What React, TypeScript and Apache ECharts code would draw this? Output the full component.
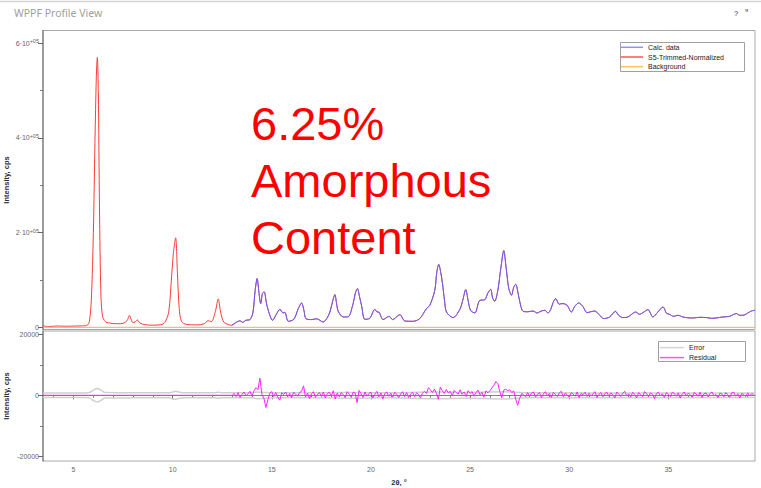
import React, { useEffect, useRef } from 'react';
import * as echarts from 'echarts';

// ---------- data ----------
const obsX = [3.45, 3.8, 4.2, 4.6, 5.0, 5.4, 5.6, 5.7, 5.8, 5.9, 6.0, 6.08, 6.15, 6.2, 6.25, 6.31, 6.38, 6.46, 6.6, 6.8, 7.2, 7.5, 7.7, 7.82, 7.92, 8.0, 8.1, 8.22, 8.35, 8.6, 9.0, 9.4, 9.6, 9.8, 9.95, 10.04, 10.15, 10.24, 10.33, 10.45, 10.7, 11.2, 11.6, 11.78, 11.95, 12.15, 12.3, 12.4, 12.5, 12.6, 12.8, 12.97];
const obsY = [2500, 1800, 2800, 2200, 2600, 3000, 3400, 4500, 12000, 60000, 200000, 390000, 530000, 570000, 500000, 250000, 70000, 24000, 12000, 9000, 7500, 8500, 14000, 25000, 15000, 10000, 11000, 15500, 9000, 5500, 4500, 5500, 10000, 32000, 110000, 158000, 189000, 115000, 40000, 12000, 6000, 5000, 7500, 14000, 12000, 33000, 60000, 36000, 18000, 10000, 6000, 4200];

const calcX = [12.97, 13.23, 13.39, 13.54, 13.69, 13.9, 14.05, 14.16, 14.26, 14.35, 14.44, 14.53, 14.62, 14.72, 14.82, 15.04, 15.23, 15.41, 15.57, 15.66, 15.83, 16.11, 16.34, 16.5, 16.62, 16.72, 17.01, 17.26, 17.59, 17.78, 17.93, 18.08, 18.18, 18.28, 18.35, 18.6, 18.85, 19.1, 19.21, 19.32, 19.42, 19.53, 19.69, 19.94, 20.2, 20.3, 20.41, 20.61, 20.92, 21.09, 21.46, 21.71, 22.13, 22.46, 22.8, 22.97, 23.22, 23.32, 23.42, 23.52, 23.61, 23.71, 23.81, 24.14, 24.48, 24.63, 24.78, 24.9, 25.02, 25.24, 25.49, 25.74, 25.89, 26.04, 26.14, 26.24, 26.4, 26.55, 26.7, 26.82, 26.95, 27.09, 27.2, 27.3, 27.45, 27.56, 27.67, 27.91, 28.18, 28.38, 28.56, 28.77, 28.93, 29.07, 29.19, 29.32, 29.49, 29.57, 29.69, 29.89, 30.11, 30.28, 30.48, 30.68, 30.9, 31.08, 31.29, 31.49, 31.74, 32.04, 32.33, 32.49, 32.71, 32.96, 33.15, 33.35, 33.55, 33.72, 33.97, 34.22, 34.46, 34.73, 34.91, 35.06, 35.26, 35.48, 35.73, 35.97, 36.24, 36.58, 36.92, 37.18, 37.42, 37.75, 38.09, 38.43, 38.59, 38.76, 38.99, 39.18, 39.37];
const calcY = [4200, 11200, 13700, 10500, 14800, 16300, 31700, 78000, 103000, 74000, 50000, 72000, 74600, 52800, 36000, 14800, 27500, 38000, 30200, 31700, 12700, 16900, 40000, 51400, 36000, 18400, 16300, 18000, 11200, 19000, 32300, 57000, 69000, 46500, 33800, 21800, 22200, 50000, 71800, 81800, 65500, 45000, 16900, 19000, 38000, 32700, 31700, 16300, 23200, 16300, 26800, 13300, 12700, 18400, 39500, 46500, 78200, 116000, 133000, 116000, 92300, 57000, 32300, 20500, 37400, 57000, 79600, 57000, 36000, 30200, 57000, 58100, 71800, 80300, 61300, 55000, 78200, 124700, 162000, 124700, 82400, 67600, 84500, 90900, 65500, 44400, 33800, 32800, 34400, 30200, 33800, 36000, 30200, 38000, 52800, 60600, 48600, 49700, 50000, 46500, 32300, 44400, 51400, 44400, 31100, 32800, 34400, 27500, 18400, 21800, 33800, 25400, 20500, 21800, 27500, 32300, 27500, 31100, 37400, 21800, 31700, 42900, 29600, 27500, 23200, 25400, 21800, 20100, 19700, 21100, 20500, 19000, 19700, 21800, 23200, 29000, 25400, 25400, 29600, 34400, 36000];

const bgX = [3.46, 39.37];
const bgY = [0, 0];

const errX = [3.46, 5.6, 5.85, 6.0, 6.2, 6.4, 6.6, 7.8, 8.2, 9.8, 10.0, 10.15, 10.35, 10.6, 12.1, 12.3, 12.5, 14.0, 14.26, 14.6, 15.2, 18.2, 19.3, 20.5, 23.4, 24.8, 26.7, 27.3, 28.0, 39.37];
const errY = [750, 750, 1000, 1700, 2200, 1600, 900, 850, 800, 800, 1100, 1300, 1000, 800, 800, 1000, 800, 800, 1100, 950, 800, 900, 950, 800, 1100, 950, 1200, 1000, 800, 750];

const residFlatX = [3.46, 12.95];
const residFlatY = [0, 0];
const residStart = 13.0;
const residStep = 0.1;
const residY = [
  0, 600, -400, 900, -700, 300, 1100, -200, 500, 1300,
  -300, 1500, 2500, 1800, 5600, 300, -900, -4000, -1500, 700,
  1200, -400, 900, -600, -1600, 800, 300, 1100, -500, 600,
  -800, 1000, 400, -300, 900, 1300, 3100, -600, 700, -1100,
  500, 1200, -700, 300, 900, -400, 1100, -900, 600, 1000,
  -200, 1500, -1200, 700, -500, 900, 300, -800, 1200, 400,
  -600, 1000, 800, -2400, 1600, 500, -700, 1100, -300, 600,
  1000, -900, 400, 1300, -500, 800, -1200, 600, 1100, -300,
  700, -600, 1000, 300, -800, 500, 1200, -400, 900, -700,
  400, 1000, -500, 800, 300, -900, 700, 1300, 600, 2500,
  1800, 900, 2000, 700, -1300, 2700, 1500, 600, 1900, 800,
  1300, -200, 1600, 900, 400, 1800, 300, 1100, -400, 1500,
  600, 1200, -300, 900, 1700, 200, 1000, -600, 1400, 800,
  1500, 2400, 3300, 4500, 3800, 1200, -800, 1700, 2000, 1500,
  1800, 900, 1400, -1200, -3300, -1000, 600, 200, -500, 900,
  -300, 700, 1100, -600, 400, 900, -800, 500, 1200, -200,
  600, -700, 1000, 300, -400, 800, 1300, -500, 700, 200,
  -600, 900, 400, -300, 1100, -800, 600, 200, 1000, -400,
  700, -200, 500, 1200, -700, 300, 900, -500, 600, 1000,
  -300, 800, 200, -900, 1100, 400, -400, 700, 1300, -200,
  500, -600, 1000, 300, -800, 900, 200, -400, 1200, 600,
  -500, 800, 300, -1100, 600, 1000, -200, 500, -700, 900,
  300, -400, 1000, 600, -300, 800, -900, 400, 1100, -200,
  700, 200, -600, 900, 400, -300, 1000, -700, 500, 800,
  -400, 600, 1100, -200, 300, -800, 700, 400, -500, 900,
  200, -600, 800, 1000, -300, 500, -900, 600, 300, -400,
  800, -200, 500, 300,
];

const xMajorTicks = [5, 10, 15, 20, 25, 30, 35];
const xMinorTicks = [4, 6, 7, 8, 9, 11, 12, 13, 14, 16, 17, 18, 19, 21, 22, 23, 24, 26, 27, 28, 29, 31, 32, 33, 34, 36, 37, 38, 39];
const topYTicks = [0, 200000, 400000, 600000];
const topYMinor = [100000, 300000, 500000];
const botYTicks = [-20000, 0, 20000];
const botYMinor = [-10000, 10000];

const X_MIN = 3.46;
const X_MAX = 39.37;
const TOP_MIN = -4650;
const TOP_MAX = 627050;
const BOT_MIN = -21540;
const BOT_MAX = 21080;

const FONT = 'Liberation Sans';

const pairs = (xs: number[], ys: number[]) => xs.map((x, i) => [x, ys[i]]);

export default function App() {
  const ref = useRef<HTMLDivElement>(null);
  useEffect(() => {
    if (!ref.current) return;
    const chart = echarts.init(ref.current, undefined, { renderer: 'svg' });

    const obsData = pairs(obsX, obsY).concat(pairs(calcX, calcY).slice(1));
    const calcData = pairs(calcX, calcY);
    const residData = pairs(residFlatX, residFlatY).concat(
      residY.map((v, i) => [Number((residStart + i * residStep).toFixed(2)), v])
    );
    const errUp = pairs(errX, errY);
    const errDown = errX.map((x, i) => [x, -errY[i]]);

    const tickLabel = { fontSize: 7, color: '#666', fontFamily: FONT };
    const nameStyle = { fontSize: 7.5, fontWeight: 'bold' as const, color: '#2a2a3a', fontFamily: FONT };
    const gridBase = { left: 43, width: 712, containLabel: false, outerBoundsMode: 'none' };

    const option: any = {
      animation: false,
      backgroundColor: '#ffffff',
      grid: [
        { ...gridBase, top: 30.5, height: 299, show: true, borderColor: '#a8a8a8', borderWidth: 1 },
        { ...gridBase, top: 331, height: 130, show: true, borderColor: '#a8a8a8', borderWidth: 1 },
        { ...gridBase, top: 30.5, height: 299, show: false },
        { ...gridBase, top: 331, height: 130, show: false },
      ],
      xAxis: [
        { type: 'value', gridIndex: 0, min: X_MIN, max: X_MAX, show: false },
        {
          type: 'value', gridIndex: 1, min: X_MIN, max: X_MAX,
          axisLine: { show: true, lineStyle: { color: '#808080', width: 1 } },
          axisTick: { show: true, customValues: xMajorTicks, length: 4, lineStyle: { color: '#666' } },
          axisLabel: { show: true, customValues: xMajorTicks, margin: 4.5, ...tickLabel },
          splitLine: { show: false },
          name: '2θ, °', nameLocation: 'middle', nameGap: 17, nameMoveOverlap: false, nameTextStyle: nameStyle,
        },
        { type: 'value', gridIndex: 2, min: X_MIN, max: X_MAX, show: false },
        {
          type: 'value', gridIndex: 3, min: X_MIN, max: X_MAX,
          axisLine: { show: false },
          axisTick: { show: true, customValues: xMinorTicks, length: 2.5, lineStyle: { color: '#777' } },
          axisLabel: { show: false },
          splitLine: { show: false },
        },
      ],
      yAxis: [
        {
          type: 'value', gridIndex: 0, min: TOP_MIN, max: TOP_MAX,
          axisLine: { show: true, lineStyle: { color: '#8a8a8a', width: 1.5 } },
          axisTick: { show: true, customValues: topYTicks, length: 5, lineStyle: { color: '#666' } },
          axisLabel: {
            show: true, customValues: topYTicks, margin: 4,
            formatter: (v: number) => (v === 0 ? '{a|0}' : `{a|${Math.round(v / 100000)}·10}{b|+05}`),
            rich: {
              a: { fontSize: 7, color: '#666', fontFamily: FONT, lineHeight: 10 },
              b: { fontSize: 5.5, color: '#666', fontFamily: FONT, verticalAlign: 'top', lineHeight: 6 },
            },
          },
          splitLine: { show: false },
          name: 'Intensity, cps', nameLocation: 'middle', nameGap: 33, nameMoveOverlap: false, nameTextStyle: nameStyle,
        },
        {
          type: 'value', gridIndex: 1, min: BOT_MIN, max: BOT_MAX,
          axisLine: { show: true, lineStyle: { color: '#8a8a8a', width: 1.5 } },
          axisTick: { show: true, customValues: botYTicks, length: 5, lineStyle: { color: '#666' } },
          axisLabel: { show: true, customValues: botYTicks, margin: 4, formatter: (v: number) => String(v), ...tickLabel },
          splitLine: { show: false },
          name: 'Intensity, cps', nameLocation: 'middle', nameGap: 33, nameMoveOverlap: false, nameTextStyle: nameStyle,
        },
        {
          type: 'value', gridIndex: 2, min: TOP_MIN, max: TOP_MAX,
          axisLine: { show: false },
          axisTick: { show: true, customValues: topYMinor, length: 3, lineStyle: { color: '#777' } },
          axisLabel: { show: false },
          splitLine: { show: false },
        },
        {
          type: 'value', gridIndex: 3, min: BOT_MIN, max: BOT_MAX,
          axisLine: { show: false },
          axisTick: { show: true, customValues: botYMinor, length: 3, lineStyle: { color: '#777' } },
          axisLabel: { show: false },
          splitLine: { show: false },
        },
      ],
      legend: [
        {
          left: 621, top: 43.2, orient: 'vertical', padding: 0, itemGap: 1.5,
          itemWidth: 22, itemHeight: 1.5, icon: 'rect', selectedMode: false,
          data: ['Calc. data', 'S5-Trimmed-Normalized', 'Background'],
          textStyle: { fontSize: 7, color: '#222', fontFamily: FONT, lineHeight: 8.2 },
        },
        {
          left: 660, top: 343.5, orient: 'vertical', padding: 0, itemGap: 1.8,
          itemWidth: 24, itemHeight: 1.5, icon: 'rect', selectedMode: false,
          data: ['Error', 'Residual'],
          textStyle: { fontSize: 7, color: '#222', fontFamily: FONT, lineHeight: 8.2 },
        },
      ],
      series: [
        {
          name: 'S5-Trimmed-Normalized', type: 'line', xAxisIndex: 0, yAxisIndex: 0,
          data: obsData, showSymbol: false, symbol: 'none', smooth: 0.3,
          lineStyle: { color: '#ff3a3a', width: 1 }, itemStyle: { color: '#ff5555' },
        },
        {
          name: 'Calc. data', type: 'line', xAxisIndex: 0, yAxisIndex: 0,
          data: calcData, showSymbol: false, symbol: 'none', smooth: 0.3,
          lineStyle: { color: '#6060ff', width: 1 }, itemStyle: { color: '#9090ff' },
        },
        {
          name: 'Background', type: 'line', xAxisIndex: 0, yAxisIndex: 0,
          data: pairs(bgX, bgY), showSymbol: false, symbol: 'none',
          lineStyle: { color: '#e0b070', width: 1 }, itemStyle: { color: '#ffc060' },
        },
        {
          name: 'Error', type: 'line', xAxisIndex: 1, yAxisIndex: 1,
          data: errUp, showSymbol: false, symbol: 'none', smooth: 0.4,
          lineStyle: { color: '#cfcfcf', width: 1.5 }, itemStyle: { color: '#d4d4d4' },
        },
        {
          name: 'Error', type: 'line', xAxisIndex: 1, yAxisIndex: 1,
          data: errDown, showSymbol: false, symbol: 'none', smooth: 0.4,
          lineStyle: { color: '#cfcfcf', width: 1.5 }, itemStyle: { color: '#d4d4d4' },
        },
        {
          name: 'Residual', type: 'line', xAxisIndex: 1, yAxisIndex: 1,
          data: residData, showSymbol: false, symbol: 'none',
          lineStyle: { color: '#ff22ff', width: 1 }, itemStyle: { color: '#ff55ff' },
        },
      ],
      graphic: [
        { type: 'line', shape: { x1: 0, y1: 1.5, x2: 761, y2: 1.5 }, style: { stroke: '#d4d4d4', lineWidth: 1.5 }, silent: true },
        { type: 'text', left: 14, top: 7, style: { text: 'WPPF Profile View', fontSize: 10.5, fontFamily: 'Noto Sans', fill: '#a0a0a0' }, silent: true },
        { type: 'text', left: 734, top: 9, style: { text: '?', fontSize: 7.5, fontFamily: FONT, fill: '#333' }, silent: true },
        { type: 'text', left: 745, top: 7, style: { text: 'ᵍ', fontSize: 8, fontFamily: 'DejaVu Sans', fill: '#333' }, silent: true },
        { type: 'rect', shape: { x: 620.5, y: 42.5, width: 124, height: 29 }, style: { fill: 'none', stroke: '#a0a0a0', lineWidth: 1 }, silent: true, z: 10 },
        { type: 'rect', shape: { x: 658.5, y: 341.5, width: 87, height: 20 }, style: { fill: 'none', stroke: '#a0a0a0', lineWidth: 1 }, silent: true, z: 10 },
        {
          type: 'text', x: 251, y: 95, z: 20,
          style: { text: '6.25%\nAmorphous\nContent', fontSize: 47, lineHeight: 57, fontFamily: FONT, fill: '#ff0000' },
          silent: true,
        },
      ],
    };

    chart.setOption(option);
    return () => chart.dispose();
  }, []);

  return (
    <div
      ref={ref}
      style={{ position: 'fixed', left: 0, top: 0, width: 761, height: 488, background: '#fff' }}
    />
  );
}
